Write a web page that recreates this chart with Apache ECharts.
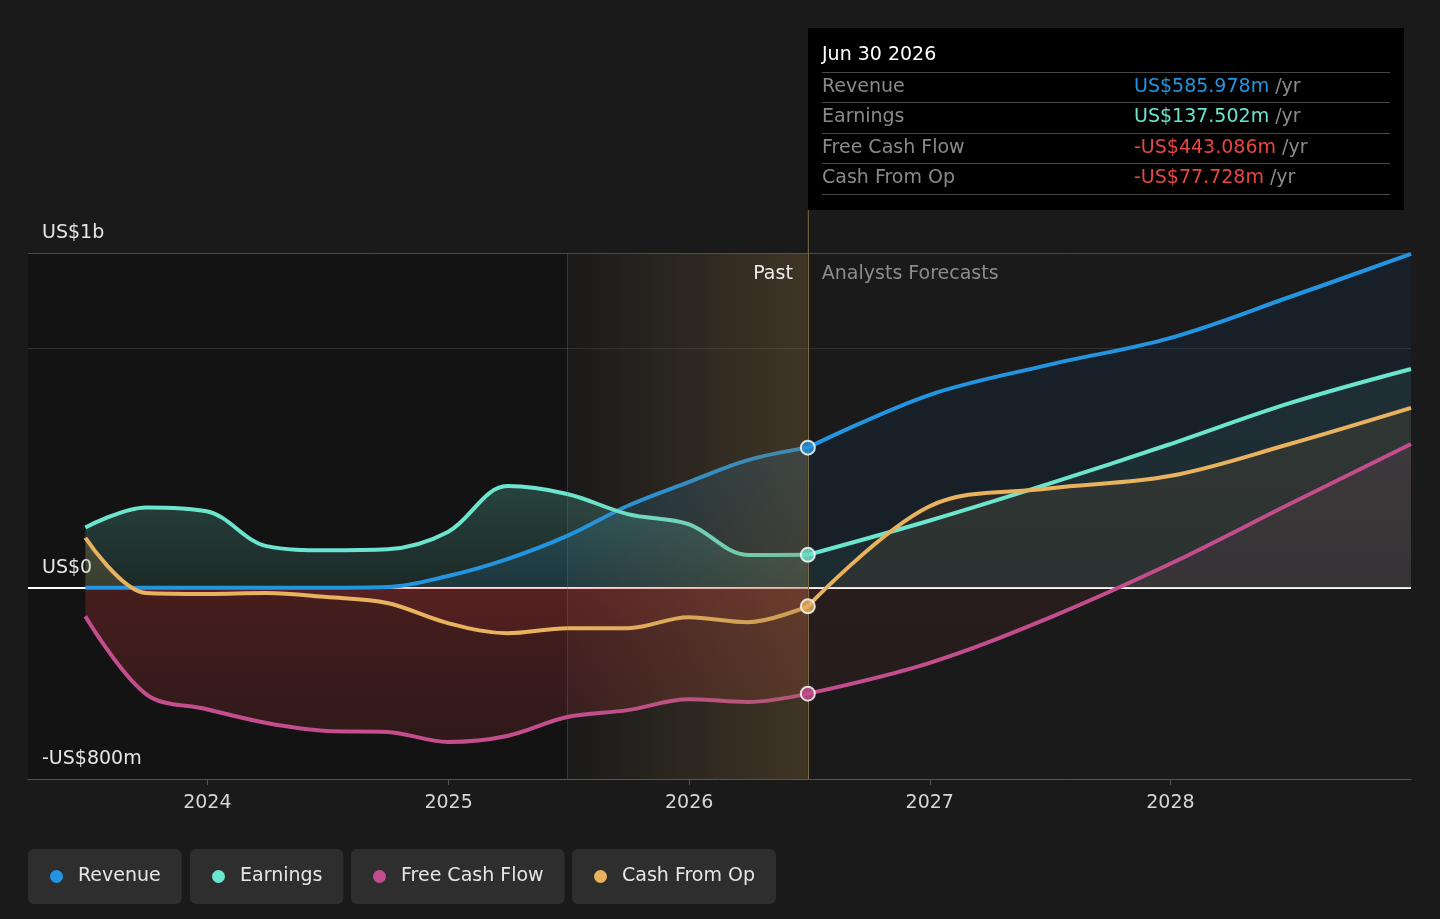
<!DOCTYPE html>
<html><head><meta charset="utf-8">
<script src="https://cdn.jsdelivr.net/npm/echarts@6/dist/echarts.min.js"></script>
<style>html,body{margin:0;padding:0;background:#1a1a1a;}#c{width:1440px;height:919px;}</style>
</head><body><div id="c"></div>
<script>
// ---------- DATA ----------
const pastDates = ['2023-06-30','2023-09-30','2023-12-31','2024-03-31','2024-06-30','2024-09-30','2024-12-31','2025-03-31','2025-06-30','2025-09-30','2025-12-31','2026-03-31','2026-06-30'];
const forecastDates = ['2026-06-30','2026-12-31','2027-06-30','2027-12-31','2028-06-30','2028-12-31'];
const revenuePast = [0, 0, 0, 0, 0, 3, 49, 120, 217, 343, 442, 534, 585.978];
const earningsPast = [252, 336, 320, 174, 157, 161, 233, 425, 392, 308, 266, 137, 137.502];
const fcfPast = [-119, -445, -508, -566, -599, -603, -645, -620, -541, -512, -466, -478, -443.086];
const cfoPast = [209, -22, -26, -22, -39, -64, -148, -190, -169, -169, -123, -144, -77.728];
const revenueFc = [585.978, 806, 932, 1044, 1216, 1396];
const earningsFc = [137.502, 280, 434, 600, 772, 915];
const fcfFc = [-443.086, -315, -127, 99, 350, 601];
const cfoFc = [-77.728, 340, 415, 467, 601, 752];
const seriesNames = ['Revenue','Earnings','Free Cash Flow','Cash From Op'];
const yTickValues = [-800, 0, 1400];
const yTickLabels = ['-US$800m', 'US$0', 'US$1b'];
const tooltipDate = 'Jun 30 2026';
const pastLabel = 'Past';
const forecastLabel = 'Analysts Forecasts';
const axisStart = '2023-04-04';
const axisEnd = '2028-12-31';
const highlightStart = '2025-06-30';
const nowDate = '2026-06-30';

// ---------- STYLE ----------
const FONT = '"DejaVu Sans", sans-serif';
const COL = {rev:'#2394df', earn:'#6ce5cf', fcf:'#c44d8e', cfo:'#e8b25f'};
const NEG = '#e84545';
function d(s){const p=s.split('-').map(Number);return new Date(p[0],p[1]-1,p[2]).getTime();}
function pairs(dates, vals){return dates.map((t,i)=>[d(t), vals[i]]);}
function rgba(c,a){return 'rgba('+c[0]+','+c[1]+','+c[2]+','+a+')';}
const RED=[222,60,62];
const fillSpecs = {
  revP:{pos:[35,148,223],pTop:0.3,pZero:0.16},
  earnP:{pos:[108,229,207],pTop:0.32,pZero:0.15},
  fcfP:{neg:RED,nZero:0.37,nBot:0.2},
  cfoP:{pos:[232,178,95],pTop:0.26,pZero:0.2,neg:RED,nZero:0.15,nBot:0.1},
  revF:{pos:[10,60,110],pTop:0.26,pZero:0.2},
  earnF:{pos:[108,229,207],pTop:0.11,pZero:0.09},
  fcfF:{pos:[196,77,142],pTop:0.13,pZero:0.1,neg:[224,64,64],nZero:0.1,nBot:0.08},
  cfoF:{pos:[220,130,50],pTop:0.14,pZero:0.11,neg:[224,64,64],nZero:0.09,nBot:0.09}
};

const chart = echarts.init(document.getElementById('c'), null, {renderer:'canvas'});

const defs = [
  {name:seriesNames[0], col:COL.rev, dates:pastDates, vals:revenuePast, spec:'revP'},
  {name:seriesNames[0], col:COL.rev, dates:forecastDates, vals:revenueFc, spec:'revF'},
  {name:seriesNames[1], col:COL.earn, dates:pastDates, vals:earningsPast, spec:'earnP'},
  {name:seriesNames[1], col:COL.earn, dates:forecastDates, vals:earningsFc, spec:'earnF'},
  {name:seriesNames[2], col:COL.fcf, dates:pastDates, vals:fcfPast, spec:'fcfP'},
  {name:seriesNames[2], col:COL.fcf, dates:forecastDates, vals:fcfFc, spec:'fcfF'},
  {name:seriesNames[3], col:COL.cfo, dates:pastDates, vals:cfoPast, spec:'cfoP'},
  {name:seriesNames[3], col:COL.cfo, dates:forecastDates, vals:cfoFc, spec:'cfoF'}
];

function buildSeries(fillFn){
  const s = [];
  s.push({
    type:'line', name:'_bg', data:[], z:0, silent:true,
    markArea:{silent:true, z:0, itemStyle:{color:'#131313'}, data:[[{xAxis:d(axisStart)},{xAxis:d(highlightStart)}]]},
    markLine:{silent:true, z:1, symbol:'none', label:{show:false}, animation:false,
      data:[
        {yAxis:1400, lineStyle:{color:'#474747', width:1, type:'solid'}},
        {yAxis:1000, lineStyle:{color:'#313131', width:1, type:'solid'}},
        {yAxis:0, lineStyle:{color:'#ffffff', width:1.8, type:'solid'}}
      ]}
  });
  defs.forEach(df=>{
    s.push({
      type:'line', name:df.name, data:pairs(df.dates, df.vals), z:2,
      smooth:0.35, showSymbol:false, symbol:'none',
      lineStyle:{color:df.col, width:4},
      itemStyle:{color:df.col},
      areaStyle:{color: fillFn ? fillFn(df.vals, fillSpecs[df.spec]) : 'rgba(0,0,0,0)', origin:0}
    });
  });
  s.push({
    type:'line', name:'_overlay', data:[], z:3, silent:true,
    markArea:{silent:true, z:3, data:[[{xAxis:d(highlightStart), itemStyle:{color:new echarts.graphic.LinearGradient(0,0,1,0,[{offset:0,color:'rgba(140,110,60,0.0)'},{offset:1,color:'rgba(140,110,60,0.32)'}])}},{xAxis:d(nowDate)}]]},
    markLine:{silent:true, z:3, symbol:'none', label:{show:false}, animation:false,
      data:[
        {xAxis:d(highlightStart), lineStyle:{color:'rgba(130,110,70,0.35)', width:1, type:'solid'}},
        {xAxis:d(nowDate), lineStyle:{color:'#7a6a45', width:1, type:'solid'}}
      ]}
  });
  s.push({
    type:'scatter', name:'_dots', z:4, silent:true, symbolSize:14,
    itemStyle:{borderColor:'#ffffff', borderWidth:2},
    data:[
      {value:[d(nowDate), revenueFc[0]], itemStyle:{color:COL.rev}},
      {value:[d(nowDate), earningsFc[0]], itemStyle:{color:COL.earn}},
      {value:[d(nowDate), fcfFc[0]], itemStyle:{color:COL.fcf}},
      {value:[d(nowDate), cfoFc[0]], itemStyle:{color:COL.cfo}}
    ]
  });
  return s;
}

const legendLeft = [28, 190, 351, 572];
const legends = seriesNames.map((n,i)=>({
  data:[n], left:legendLeft[i], top:849, icon:'circle', itemWidth:13, itemHeight:13,
  backgroundColor:'#2e2e2e', borderRadius:6, padding:[16,21,16,22],
  textStyle:{color:'#e6e6e6', fontSize:19, fontFamily:FONT, lineHeight:23, padding:[0,0,0,10]}
}));

function fmt(v){return (v<0?'-':'')+'US$'+Math.abs(v).toFixed(3)+'m';}
const tipVals = [revenueFc[0], earningsFc[0], fcfFc[0], cfoFc[0]];
const tipPosCols = [COL.rev, COL.earn, COL.earn, COL.earn];

const graphics = [
  {type:'rect', id:'tipbox', x:808, y:28, shape:{width:596, height:182}, style:{fill:'#000000'}, z:10},
  {type:'text', id:'tipdate', x:822, y:55, style:{text:tooltipDate, fill:'#ffffff', font:'19px '+FONT, verticalAlign:'middle'}, z:11}
];
[72,102,133,163,194].forEach((yy,i)=>graphics.push({type:'line', id:'sep'+i, shape:{x1:822,y1:yy+0.5,x2:1390,y2:yy+0.5}, style:{stroke:'#474747', lineWidth:1}, z:11}));
seriesNames.forEach((n,i)=>{
  const yy = 87 + i*30.3;
  graphics.push({type:'text', id:'tl'+i, x:822, y:yy, style:{text:n, fill:'#8a8a8a', font:'19px '+FONT, verticalAlign:'middle'}, z:11});
  const v = tipVals[i];
  graphics.push({type:'text', id:'tv'+i, x:1134, y:yy, style:{text:'{v|'+fmt(v)+'} {u|/yr}', font:'19px '+FONT, verticalAlign:'middle',
    rich:{v:{fill: v<0?NEG:tipPosCols[i], fontSize:19, fontFamily:FONT}, u:{fill:'#8a8a8a', fontSize:19, fontFamily:FONT}}}, z:11});
});

const option = {
  backgroundColor:'#1a1a1a',
  animation:false,
  grid:{left:28, right:29, top:253, bottom:140, containLabel:false},
  tooltip:{show:false},
  legend: legends,
  xAxis:{
    type:'time', min:d(axisStart), max:d(axisEnd),
    minInterval:365*86400000, maxInterval:366*86400000,
    splitLine:{show:false},
    axisLine:{show:true, onZero:false, lineStyle:{color:'#555555', width:1}},
    axisTick:{show:true, length:6, lineStyle:{color:'#555555'}},
    axisLabel:{color:'#d6d6d6', fontSize:19, fontFamily:FONT, margin:13, lineHeight:22, formatter:'{yyyy}', showMinLabel:false, showMaxLabel:false}
  },
  yAxis:{
    type:'value', min:-800, max:1400, interval:200,
    splitLine:{show:false}, axisLine:{show:false}, axisTick:{show:false},
    axisLabel:{inside:true, margin:14, color:'#e6e6e6', fontSize:19, fontFamily:FONT, verticalAlign:'bottom', lineHeight:22, padding:[0,0,9,0],
      formatter:function(v){const i=yTickValues.indexOf(v);return i>=0?yTickLabels[i]:'';}}
  },
  series: buildSeries(null),
  graphic: graphics
};
chart.setOption(option);

// gradients and labels computed through the chart's own scales
function py(v){return chart.convertToPixel({yAxisIndex:0}, v);}
function px(t){return chart.convertToPixel({xAxisIndex:0}, t);}
function fillFor(vals, sp){
  const mx=Math.max(0,...vals), mn=Math.min(0,...vals);
  const yT=py(mx), y0=py(0), yB=py(mn);
  const span = (yB-yT)||1;
  const f = Math.min(1,Math.max(0,(y0-yT)/span));
  const stops=[];
  if(mx>0 && sp.pos){stops.push({offset:0,color:rgba(sp.pos,sp.pTop)});stops.push({offset:f,color:rgba(sp.pos,sp.pZero)});}
  if(mn<0 && sp.neg){stops.push({offset:f,color:rgba(sp.neg,sp.nZero)});stops.push({offset:1,color:rgba(sp.neg,sp.nBot)});}
  if(!stops.length) return 'rgba(0,0,0,0)';
  return new echarts.graphic.LinearGradient(0,yT,0,yB,stops,true);
}
const xNow = px(d(nowDate));
const yTopGrid = py(1400);
chart.setOption({
  series: buildSeries(fillFor),
  graphic: [
    {type:'line', id:'nowext', shape:{x1:xNow+0.5,y1:210,x2:xNow+0.5,y2:yTopGrid}, style:{stroke:'#7a6a45', lineWidth:1}, z:9},
    {type:'text', id:'pastlbl', x:xNow-15, y:274, style:{text:pastLabel, fill:'#ececec', font:'19px '+FONT, align:'right', verticalAlign:'middle'}, z:11},
    {type:'text', id:'fclbl', x:xNow+14, y:274, style:{text:forecastLabel, fill:'#8c8c8c', font:'19px '+FONT, align:'left', verticalAlign:'middle'}, z:11}
  ]
});
</script></body></html>
